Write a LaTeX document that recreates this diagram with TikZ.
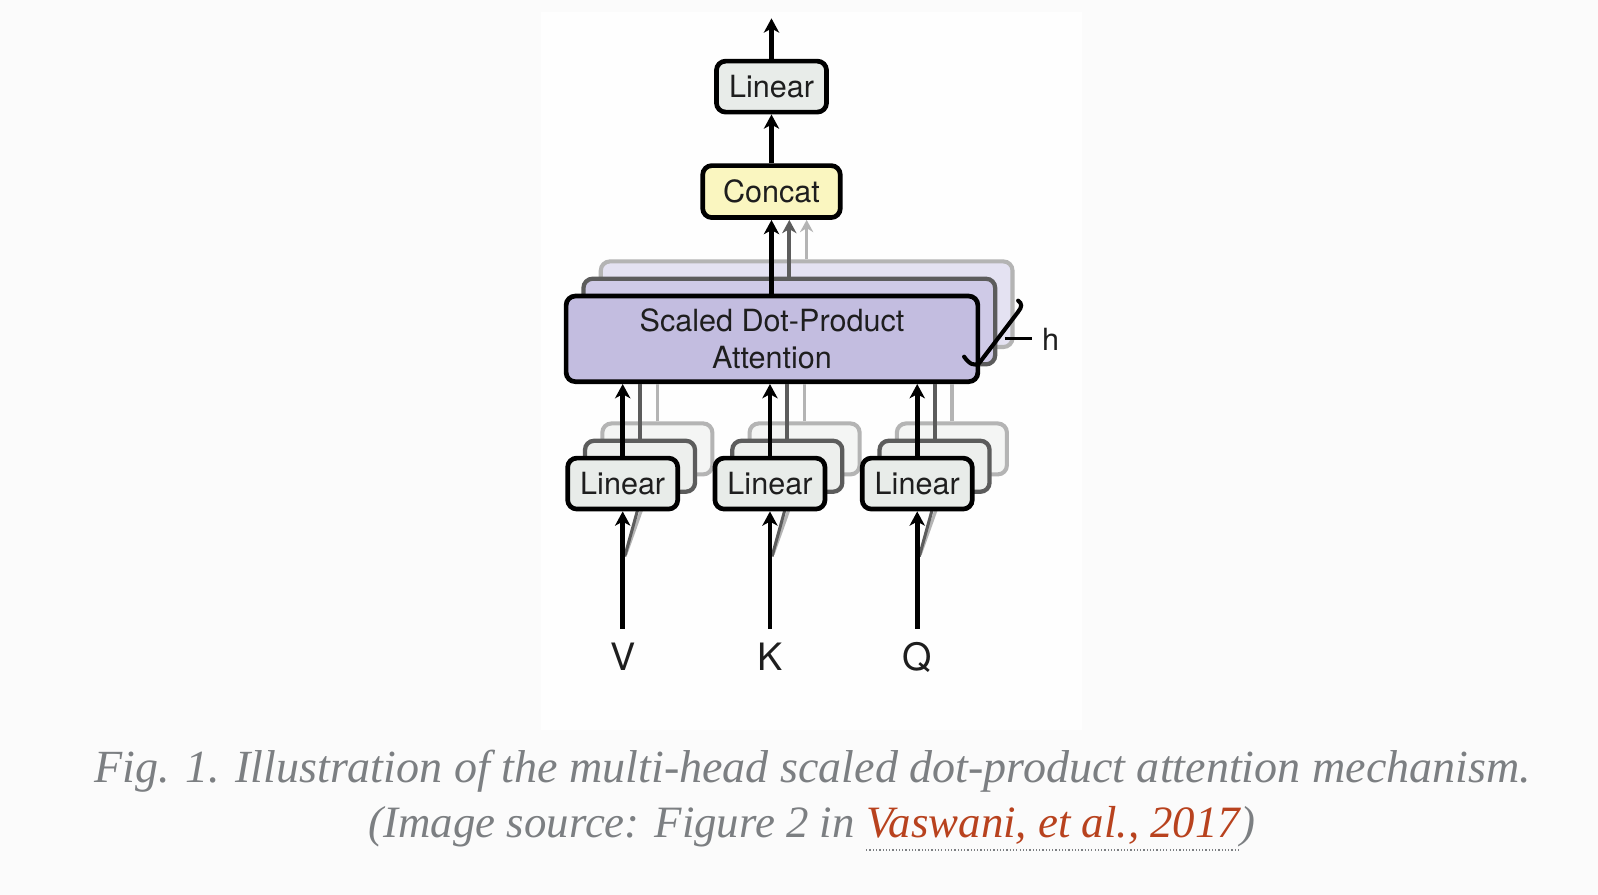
\documentclass[tikz,border=0pt]{standalone}
\usepackage{fontspec}
\setmainfont{Liberation Serif}
\newfontfamily\heros{TeX Gyre Heros}
\usetikzlibrary{arrows.meta,calc}
\definecolor{pagebg}{HTML}{FBFBFB}
\definecolor{figbg}{HTML}{FEFEFE}
\definecolor{txt}{HTML}{1E1E1E}
\definecolor{attfill}{HTML}{C3BDE0}
\definecolor{attfilltwo}{HTML}{CFCAE7}
\definecolor{attfillthree}{HTML}{E4E2F2}
\definecolor{linfill}{HTML}{E8ECE9}
\definecolor{linfilltwo}{HTML}{EDEFED}
\definecolor{linfillthree}{HTML}{F4F5F4}
\definecolor{catfill}{HTML}{FAF6C0}
\definecolor{gdark}{HTML}{5C5C5C}
\definecolor{glight}{HTML}{B4B4B4}
\definecolor{capgray}{HTML}{7C7F82}
\definecolor{linkred}{HTML}{B8421E}
\tikzset{
  boxtext/.style={font=\heros\fontsize{30}{37}\selectfont, text=txt},
  frontbox/.style={draw=black, line width=4.6pt, rounded corners=9pt, inner sep=0pt, boxtext},
  backtwo/.style={draw=gdark, line width=4.2pt, rounded corners=9pt, inner sep=0pt},
  backthree/.style={draw=glight, line width=4pt, rounded corners=9pt, inner sep=0pt},
  attsize/.style={minimum width=404pt, minimum height=84pt},
  linsize/.style={minimum width=108pt, minimum height=50pt},
  arr/.style={draw=black, line width=4.5pt, -{Stealth[length=14pt,width=15pt,inset=4pt]}},
  arrdark/.style={draw=gdark, line width=4pt, -{Stealth[length=13pt,width=14pt,inset=4pt]}},
  arrlight/.style={draw=glight, line width=3.6pt, -{Stealth[length=12pt,width=13pt,inset=4pt]}},
  linedark/.style={draw=gdark, line width=4pt},
  linelight/.style={draw=glight, line width=3.6pt},
  captext/.style={font=\itshape\fontsize{44}{52}\selectfont, inner sep=0pt},
  capbig/.style={font=\itshape\fontsize{45.2}{52}\selectfont, inner sep=0pt},
  qkv/.style={font=\heros\fontsize{37}{40}\selectfont, text=txt, inner sep=0pt, anchor=base},
}
\begin{document}
\begin{tikzpicture}[x=1pt,y=-1pt]
% backgrounds
\fill[pagebg] (0,0) rectangle (1568,878);
\fill[figbg] (531,12) rectangle (1062,716);
\useasboundingbox (0,0) rectangle (1568,878);

% top column
\node[frontbox, fill=linfill, linsize] (lintop) at (757,85) {Linear};
\coordinate (out) at (757,18);
\draw[arr] (lintop.north) -- (out);
\node[frontbox, fill=catfill, minimum width=135pt, minimum height=51pt] (concat) at (757,188) {Concat};
\draw[arr] (concat.north) -- (lintop.south);

% attention stack
\node[backthree, fill=attfillthree, attsize] (att3) at (757.5+34,332.5-34) {};
\node[backtwo, fill=attfilltwo, attsize] (att2) at (757.5+17,332.5-17) {};
\draw[arrlight] (att3.north) -- (att3.north |- concat.south);
\draw[arrdark] (att2.north) -- (att2.north |- concat.south);
\node[frontbox, fill=attfill, attsize, align=center] (att) at (757.5,332.5) {Scaled Dot-Product\\Attention};
\draw[arr] (att.north -| concat.south) -- (concat.south);

% h bracket
\draw[black, line width=4pt, line cap=round]
  (946,350) .. controls (951,357) and (956,360) .. (961,356) -- (999,306)
  .. controls (1003,301) and (1003,298) .. (999,295);
\node[boxtext, inner sep=0pt, anchor=base] (hlab) at (1031,344) {h};
\coordinate (htick) at (986,332);
\coordinate (htickend) at (1013,332);
\draw[black, line width=3pt] (htick) -- (htickend);

% input columns
\foreach \n/\x in {V/611,K/755.5,Q/900}{
  \node[backthree, fill=linfillthree, linsize] (lin\n3) at (\x+34,474.5-34) {};
  \node[backtwo, fill=linfilltwo, linsize] (lin\n2) at (\x+17,474.5-17) {};
  \draw[linelight] (lin\n3.north) -- (lin\n3.north |- att.south);
  \draw[linedark] (lin\n2.north) -- (lin\n2.north |- att.south);
  \draw[glight, line width=3pt] (\x+3,544) -- (\x+19,499);
  \draw[gdark, line width=3pt] (\x+2,546) -- (\x+15,499);
  \node[frontbox, fill=linfill, linsize] (lin\n) at (\x,474.5) {Linear};
  \draw[arr] (lin\n.north) -- (lin\n.north |- att.south);
  \coordinate (in\n) at (\x,617);
  \draw[arr] (in\n) -- (lin\n.south);
  \node[qkv] (lab\n) at (\x,658) {\n};
}

% caption
\node[capbig, text=capgray, anchor=base] (cap1) at (797.5,768)
  {Fig. 1. Illustration of the multi-head scaled dot-product attention mechanism.};
\node[captext, text=linkred, anchor=base] (cap2b) at (1033.5,822) {Vaswani, et al., 2017};
\node[captext, text=capgray, anchor=base east] (cap2a) at (cap2b.base west) {(Image source: Figure 2 in\hspace*{0.25em}};
\node[captext, text=capgray, anchor=base west] (cap2c) at (cap2b.base east) {)};
\draw[capgray, line width=1.2pt, dotted] ($(cap2b.base west)+(0,12)$) -- ($(cap2b.base east)+(0,12)$);
\end{tikzpicture}
\end{document}
